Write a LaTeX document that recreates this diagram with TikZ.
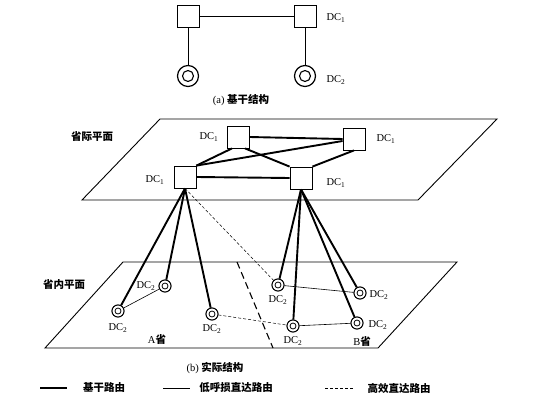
\documentclass[tikz,border=0pt]{standalone}
\usepackage{fontspec}
\setmainfont{Liberation Serif}
\newfontfamily\cjk{Noto Sans CJK SC}
\begin{document}
\begin{tikzpicture}[x=1pt,y=-1pt,
  dcone/.style={draw,line width=0.8pt,minimum size=22pt,inner sep=0pt,fill=white},
  bigring/.style={draw,circle,line width=1.2pt,minimum size=21pt,inner sep=0pt},
  ring/.style={draw,circle,line width=0.9pt,minimum size=12pt,inner sep=0pt,fill=white},
  lbl/.style={font=\fontsize{10.5}{12}\selectfont,inner sep=0pt},
  zhb/.style={font=\cjk\bfseries\fontsize{10.5}{12}\selectfont,inner sep=0pt},
  trunk/.style={line width=1.9pt},
  thinl/.style={line width=0.6pt},
  effl/.style={line width=0.5pt,dash pattern=on 3pt off 2pt},
  plane/.style={line width=0.9pt}]
\useasboundingbox (0,0) rectangle (556,409);

% ---------- (a) ----------
\node[dcone] (a1) at (188,16) {};
\node[dcone] (a2) at (305,16) {};
\node[bigring] (c1) at (188,76) {};
\node[bigring] (c2) at (305,76) {};
\draw[line width=1.1pt] (c1) circle (5.5);
\draw[line width=1.1pt] (c2) circle (5.5);
\draw[thinl] (a1.east) -- (a2.west);
\draw[thinl] (a1.south) -- (c1.north);
\draw[thinl] (a2.south) -- (c2.north);
\node[lbl] (la1) at (336,18) {DC\textsubscript{1}};
\node[lbl] (la2) at (336,80) {DC\textsubscript{2}};
\node[zhb] (capa) at (241,100) {{\rmfamily\mdseries (a)}\ 基干结构};

% ---------- upper plane ----------
\coordinate (p1) at (160,119);
\coordinate (p2) at (497,119);
\coordinate (p3) at (418,200);
\coordinate (p4) at (82,200);
\draw[plane] (p1) -- (p2) -- (p3) -- (p4) -- cycle;
\node[zhb] (pl1) at (92,137) {省际平面};

\node[dcone] (TL) at (238,137) {};
\node[dcone] (TR) at (354,139) {};
\node[dcone] (BL) at (185,177) {};
\node[dcone] (BR) at (301,178) {};
\node[lbl] (lTL) at (209,137) {DC\textsubscript{1}};
\node[lbl] (lTR) at (386,139) {DC\textsubscript{1}};
\node[lbl] (lBL) at (155,180) {DC\textsubscript{1}};
\node[lbl] (lBR) at (336,183) {DC\textsubscript{1}};

\draw[trunk] (TL.east) -- (TR.west);
\draw[trunk] ([xshift=-6pt]TL.south) -- (BL.north east);
\draw[trunk] ([yshift=-2pt]TR.west) -- (BL.north east);
\draw[trunk] ([xshift=7pt]TL.south) -- (BR.north west);
\draw[trunk] (TR.south) -- (BR.north east);
\draw[trunk] (BL.east) -- (BR.west);

% ---------- lower plane ----------
\coordinate (q1) at (123,262);
\coordinate (q2) at (457,262);
\coordinate (q3) at (378,348);
\coordinate (q4) at (45,348);
\draw[plane] (q1) -- (q2) -- (q3) -- (q4) -- cycle;
\node[zhb] (pl2) at (64,285) {省内平面};
\coordinate (d1) at (237,262);
\coordinate (d2) at (273,348);
\draw[line width=1.1pt,dash pattern=on 7pt off 4pt] (d1) -- (d2);

\node[ring] (A1) at (118,311) {};
\node[ring] (A2) at (165,286) {};
\node[ring] (A3) at (212,314) {};
\node[ring] (B1) at (278,285) {};
\node[ring] (B2) at (360,293) {};
\node[ring] (B3) at (293,326) {};
\node[ring] (B4) at (357,323) {};

% connectors into the lower plane
\draw[effl] (BL.south) -- (B1);
\foreach \n in {A1,A2,A3} \draw[trunk] (BL.south) -- (\n);
\foreach \n in {B1,B2,B3,B4} \draw[trunk] (BR.south) -- (\n);
\draw[thinl] (A1) -- (A2);
\draw[thinl] (B1) -- (B2);
\draw[thinl] (B3) -- (B4);
\draw[effl] (A3) -- (B3);

% redraw rings on top
\foreach \n in {A1,A2,A3,B1,B2,B3,B4} {
  \node[ring] at (\n) {};
  \draw[line width=0.8pt] (\n) circle (3);
}

\node[lbl] (lA1) at (118,328) {DC\textsubscript{2}};
\node[lbl] (lA2) at (146,286) {DC\textsubscript{2}};
\node[lbl] (lA3) at (212,329) {DC\textsubscript{2}};
\node[lbl] (lB1) at (278,300) {DC\textsubscript{2}};
\node[lbl] (lB2) at (379,295) {DC\textsubscript{2}};
\node[lbl] (lB3) at (293,341) {DC\textsubscript{2}};
\node[lbl] (lB4) at (378,325) {DC\textsubscript{2}};
\node[lbl] (provA) at (157,340) {A{\cjk\bfseries 省}};
\node[lbl] (provB) at (362,342) {B{\cjk\bfseries 省}};

\node[zhb] (capb) at (215,368) {{\rmfamily\mdseries (b)}\ 实际结构};

% ---------- legend ----------
\coordinate (k1a) at (40,388); \coordinate (k1b) at (67,388);
\coordinate (k2a) at (163,388); \coordinate (k2b) at (190,388);
\coordinate (k3a) at (325,388); \coordinate (k3b) at (353,388);
\draw[trunk] (k1a) -- (k1b);
\draw[thinl] (k2a) -- (k2b);
\draw[effl] (k3a) -- (k3b);
\node[zhb] (t1) at (104,388) {基干路由};
\node[zhb] (t2) at (236,388) {低呼损直达路由};
\node[zhb] (t3) at (399,388) {高效直达路由};
\end{tikzpicture}
\end{document}
